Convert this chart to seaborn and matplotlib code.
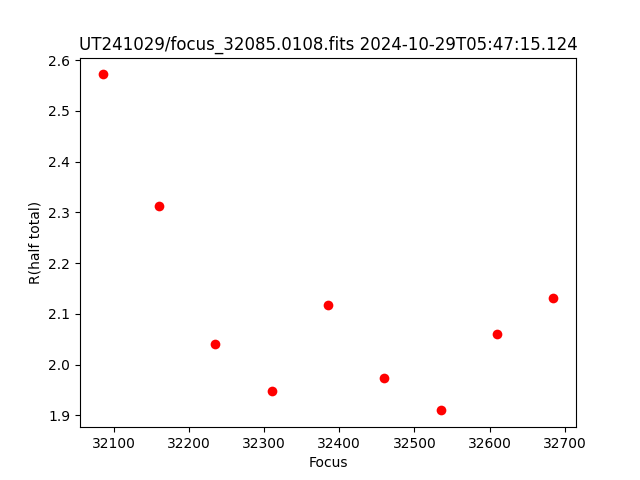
import matplotlib
matplotlib.use("Agg")
import matplotlib.pyplot as plt
import seaborn as sns
import pandas as pd

focus = [32085, 32160, 32235, 32310, 32385, 32460, 32535, 32610, 32685]
r_half = [2.572, 2.312, 2.040, 1.948, 2.117, 1.973, 1.910, 2.060, 2.131]

df = pd.DataFrame({"Focus": focus, "R(half total)": r_half})

fig, ax = plt.subplots(figsize=(6.4, 4.8), dpi=100)
sns.scatterplot(data=df, x="Focus", y="R(half total)", color="red", s=49,
                linewidth=0, ax=ax, zorder=3)
ax.set_title("UT241029/focus_32085.0108.fits 2024-10-29T05:47:15.124")
ax.set_xlabel("Focus")
ax.set_ylabel("R(half total)")
fig.savefig("out.png", dpi=100)
